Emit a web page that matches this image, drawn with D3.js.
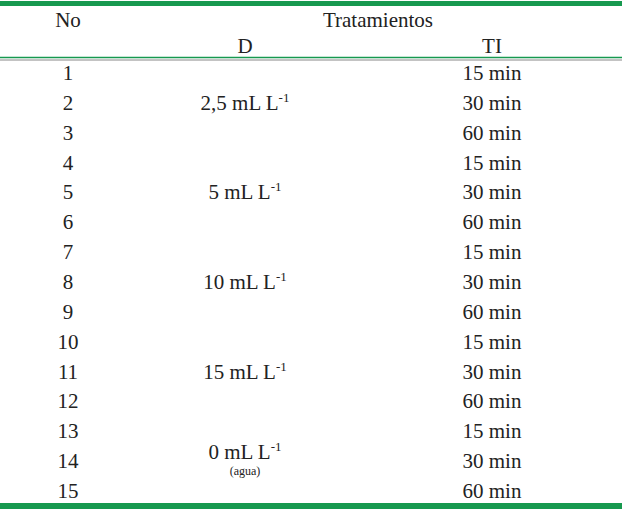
<!DOCTYPE html><html><head><meta charset="utf-8"><script src="https://cdn.jsdelivr.net/npm/d3@7"></script>
<style>body{margin:0;background:#fff} text{font-family:'Liberation Serif','Times New Roman','DejaVu Serif',serif}</style></head><body><svg id="c" width="622" height="509"></svg><script>
const nums=["1","2","3","4","5","6","7","8","9","10","11","12","13","14","15"];
const times=["15 min","30 min","60 min","15 min","30 min","60 min","15 min","30 min","60 min","15 min","30 min","60 min","15 min","30 min","60 min"];
const doses=["2,5 mL L","5 mL L","10 mL L","15 mL L","0 mL L"];
const doseNotes=["","","","","(agua)"];
const svg=d3.select("#c");
const y=d3.scaleBand().domain(d3.range(15)).range([58,506]);
const green="#17994f";
svg.append("rect").attr("x",0).attr("y",1).attr("width",622).attr("height",5).attr("fill",green);
svg.append("rect").attr("x",0).attr("y",503).attr("width",622).attr("height",6).attr("fill",green);
svg.append("line").attr("x1",0).attr("x2",622).attr("y1",57.5).attr("y2",57.5).attr("stroke",green).attr("stroke-width",1.5);
svg.append("line").attr("x1",0).attr("x2",622).attr("y1",60).attr("y2",60).attr("stroke","#888").attr("stroke-width",1);
const t=(x,yy,s,sz)=>svg.append("text").attr("x",x).attr("y",yy).attr("text-anchor","middle").attr("font-size",sz||21).attr("fill","#222").text(s);
t(68,27,"No");t(378,27,"Tratamientos");t(245,53,"D");t(492,53,"TI");
nums.forEach((n,i)=>{const cy=y(i)+y.bandwidth()/2;t(68,cy+7,n);t(492,cy+7,times[i]);});
doses.forEach((d,k)=>{const cy=y(k*3+1)+y.bandwidth()/2+(k==4?-9:0);
 const tx=t(245,cy+7,d);tx.append("tspan").attr("dy",-8).attr("font-size",13).text("-1");
 if(doseNotes[k])t(245,cy+23,doseNotes[k],12);});
</script></body></html>
